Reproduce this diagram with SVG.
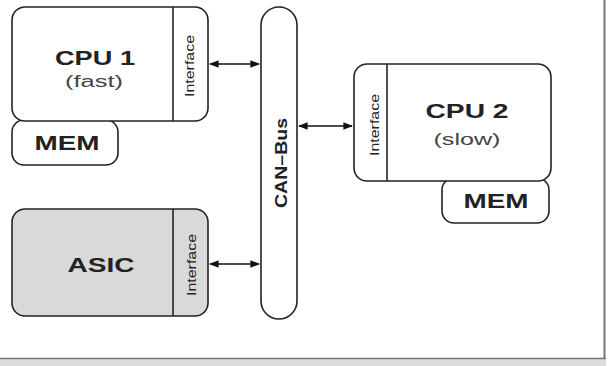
<svg xmlns="http://www.w3.org/2000/svg" width="608" height="366" viewBox="0 0 608 366">
<defs>
<style>
.box{fill:#fff;stroke:#222;stroke-width:1.6}
.asic{fill:#d9d9d9;stroke:#222;stroke-width:1.6}
.div{stroke:#222;stroke-width:1.6}
.t{font-family:"Liberation Sans",Arial,sans-serif;fill:#222;text-anchor:middle}
.big{font-size:21px;font-weight:bold}
.sub{font-size:16px;fill:#444}
.ifc{font-size:12px}
.conn{stroke:#111;stroke-width:1.6;fill:none;marker-start:url(#a);marker-end:url(#a)}
</style>
<marker id="a" viewBox="0 0 10 10" refX="9" refY="5" markerWidth="6" markerHeight="6" orient="auto-start-reverse" markerUnits="strokeWidth">
<path d="M0,1 L10,5 L0,9 Z" fill="#111"/>
</marker>
</defs>
<rect x="0" y="0" width="608" height="366" fill="#fff"/>
<g id="frame">
<line x1="604.5" y1="0" x2="604.5" y2="359" stroke="#777" stroke-width="2"/>
<rect x="0" y="358" width="606" height="8" fill="#dcdcdc"/>
<line x1="0" y1="358.5" x2="606" y2="358.5" stroke="#777" stroke-width="1.5"/>
</g>
<g id="mem1">
<rect class="box" x="12" y="120" width="106" height="45" rx="12"/>
<text class="t big" x="67" y="150" textLength="65" lengthAdjust="spacingAndGlyphs">MEM</text>
</g>
<g id="cpu1">
<rect class="box" x="12" y="7" width="196" height="114" rx="13"/>
<line class="div" x1="173" y1="7" x2="173" y2="121"/>
<text class="t big" x="95" y="65" textLength="80" lengthAdjust="spacingAndGlyphs">CPU 1</text>
<text class="t sub" x="94" y="87" textLength="58" lengthAdjust="spacingAndGlyphs">(fast)</text>
<text class="t ifc" transform="translate(194,66) rotate(-90)" textLength="62" lengthAdjust="spacingAndGlyphs">Interface</text>
</g>
<g id="asic">
<rect class="asic" x="12" y="209" width="196" height="107" rx="13"/>
<line class="div" x1="173" y1="209" x2="173" y2="316"/>
<text class="t big" x="101" y="272" textLength="67" lengthAdjust="spacingAndGlyphs">ASIC</text>
<text class="t ifc" transform="translate(196,265) rotate(-90)" textLength="62" lengthAdjust="spacingAndGlyphs">Interface</text>
</g>
<g id="canbus">
<rect class="box" x="261" y="7" width="36" height="312" rx="18"/>
<text class="t" style="font-size:16px;font-weight:bold" transform="translate(287,163) rotate(-90)" textLength="90" lengthAdjust="spacingAndGlyphs">CAN–Bus</text>
</g>
<g id="mem2">
<rect class="box" x="442" y="178" width="107" height="45" rx="12"/>
<text class="t big" x="496" y="208" textLength="65" lengthAdjust="spacingAndGlyphs">MEM</text>
</g>
<g id="cpu2">
<rect class="box" x="354" y="64" width="197" height="117" rx="13"/>
<line class="div" x1="387" y1="64" x2="387" y2="181"/>
<text class="t big" x="467" y="118" textLength="83" lengthAdjust="spacingAndGlyphs">CPU 2</text>
<text class="t sub" x="467" y="145" textLength="67" lengthAdjust="spacingAndGlyphs">(slow)</text>
<text class="t ifc" transform="translate(379,125) rotate(-90)" textLength="62" lengthAdjust="spacingAndGlyphs">Interface</text>
</g>
<g id="connectors">
<line class="conn" x1="210" y1="64" x2="259" y2="64"/>
<line class="conn" x1="299" y1="126" x2="352" y2="126"/>
<line class="conn" x1="210" y1="264" x2="259" y2="264"/>
</g>
</svg>
